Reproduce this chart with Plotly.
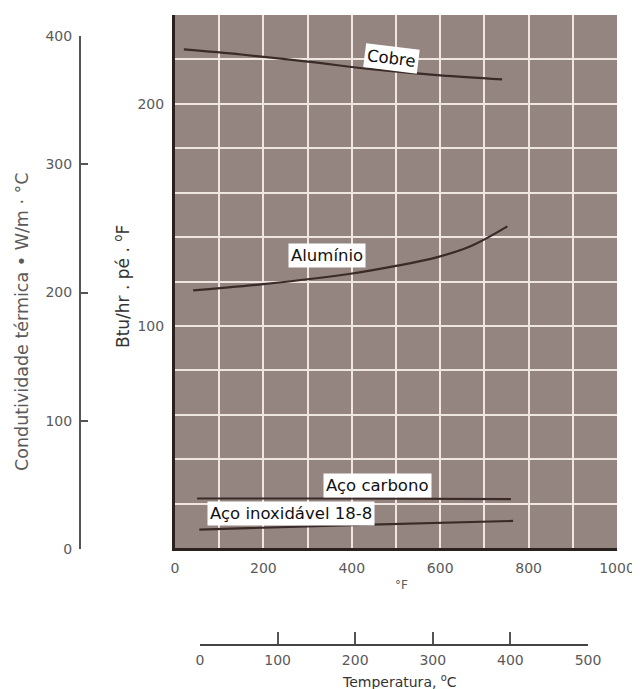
import plotly.graph_objects as go

# ---- data ----
temp_f_cobre = [20, 150, 300, 450, 600, 740]
k_cobre = [224.5, 222.2, 219.0, 215.5, 212.8, 211.0]

temp_f_aluminio = [41, 200, 397, 500, 594, 670, 752]
k_aluminio = [116, 118.8, 123.5, 127, 131, 136, 144.8]

temp_f_carbono = [50, 400, 760]
k_carbono = [22.3, 22.3, 22.0]

temp_f_inox = [55, 400, 765]
k_inox = [8.3, 10.3, 12.2]

f_ticks = [0, 200, 400, 600, 800, 1000]
btu_ticks = [100, 200]
w_ticks = [0, 100, 200, 300, 400]
c_ticks = [0, 100, 200, 300, 400, 500]

series = [
    ("Cobre", temp_f_cobre, k_cobre, 490, 220.5, 7),
    ("Alumínio", temp_f_aluminio, k_aluminio, 343, 131.7, 0),
    ("Aço carbono", temp_f_carbono, k_carbono, 458, 28.3, 0),
    ("Aço inoxidável 18-8", temp_f_inox, k_inox, 262, 15.7, 0),
]

# page offset (browser body margin) compensation
OFF = 8
W, H = 640 - OFF, 689 - OFF


def px(X):
    return (X - OFF) / W


def py(Y):
    return 1 - (Y - OFF) / H


FONT = "DejaVu Sans, Liberation Sans, Arial, sans-serif"
TXT = "#5a5a5a"
grid = "#efe6e2"

fig = go.Figure()
# plot background as a shape below the grid
fig.add_shape(type="rect", xref="x domain", yref="y domain", x0=0, x1=1, y0=0, y1=1,
              fillcolor="#948581", line=dict(width=0), layer="below")

for name, xs, ys, lx, ly, ang in series:
    fig.add_trace(go.Scatter(x=xs, y=ys, mode="lines", name=name,
                             line=dict(color="#3a2b28", width=2.2, shape="spline", smoothing=1.0),
                             showlegend=False, hoverinfo="x+y+name"))
    fig.add_annotation(x=lx, y=ly, xref="x", yref="y", text=name, showarrow=False,
                       textangle=ang, bgcolor="white", borderpad=2,
                       xanchor="center", yanchor="middle",
                       font=dict(family=FONT, size=16.5, color="#111111"))

# helper trace so the secondary (W/m·°C and °C) axes get drawn
fig.add_trace(go.Scatter(x=[None], y=[None], xaxis="x3", yaxis="y2",
                         showlegend=False, hoverinfo="skip"))

fig.update_layout(
    width=W, height=H, autosize=False,
    margin=dict(l=0, r=0, t=0, b=0),
    paper_bgcolor="white", plot_bgcolor="rgba(0,0,0,0)",
    font=dict(family=FONT, size=14, color=TXT),
    xaxis=dict(domain=[px(175), px(617)], range=[0, 1000], tickvals=f_ticks,
               showgrid=True, gridcolor=grid, gridwidth=2,
               minor=dict(dtick=100, showgrid=True, gridcolor=grid, gridwidth=2, ticks=""),
               zeroline=False, showline=True, linecolor="#2b2220", linewidth=3,
               ticks="", ticklabelstandoff=5, automargin=False,
               tickfont=dict(size=14, color=TXT)),
    yaxis=dict(domain=[py(548), py(15)], range=[0, 240], tickvals=btu_ticks,
               showgrid=True, gridcolor=grid, gridwidth=2,
               minor=dict(dtick=20, showgrid=True, gridcolor=grid, gridwidth=2, ticks=""),
               zeroline=False, showline=True, linecolor="#2b2220", linewidth=3,
               ticks="", ticklabelstandoff=5, automargin=False,
               tickfont=dict(size=14, color=TXT)),
    yaxis2=dict(domain=[py(549), py(36)], range=[0, 400], tickvals=w_ticks,
                anchor="free", position=px(80), side="left",
                showgrid=False, zeroline=False, showline=True, linecolor="#555555", linewidth=2,
                ticks="inside", ticklen=7, tickwidth=1.5, tickcolor="#555555",
                ticklabelstandoff=4, automargin=False,
                tickfont=dict(size=14, color=TXT)),
    xaxis3=dict(domain=[px(200), px(588)], range=[0, 500], tickvals=c_ticks,
                anchor="free", position=py(645), side="bottom",
                showgrid=False, zeroline=False, showline=True, linecolor="#444444", linewidth=2,
                ticks="inside", ticklen=12, tickwidth=1.5, tickcolor="#555555",
                ticklabelstandoff=2, automargin=False,
                tickfont=dict(size=14, color=TXT)),
)

# axis titles
fig.add_annotation(x=px(401), y=py(585), xref="paper", yref="paper", text="°F",
                   xanchor="center", yanchor="middle",
                   showarrow=False, font=dict(family=FONT, size=12, color=TXT))
fig.add_annotation(x=px(399), y=py(681), xref="paper", yref="paper",
                   text="Temperatura, <sup>o</sup>C", showarrow=False,
                   xanchor="center", yanchor="middle",
                   font=dict(family=FONT, size=14, color="#333333"))
fig.add_annotation(x=px(22), y=py(322), xref="paper", yref="paper",
                   text="Condutividade térmica • W/m · °C", textangle=-90, showarrow=False,
                   xanchor="center", yanchor="middle",
                   font=dict(family=FONT, size=17.5, color=TXT))
fig.add_annotation(x=px(122), y=py(287), xref="paper", yref="paper",
                   text="Btu/hr . pé . <sup>o</sup>F", textangle=-90, showarrow=False,
                   xanchor="center", yanchor="middle",
                   font=dict(family=FONT, size=17, color="#333333"))

fig.write_html("out.html")
